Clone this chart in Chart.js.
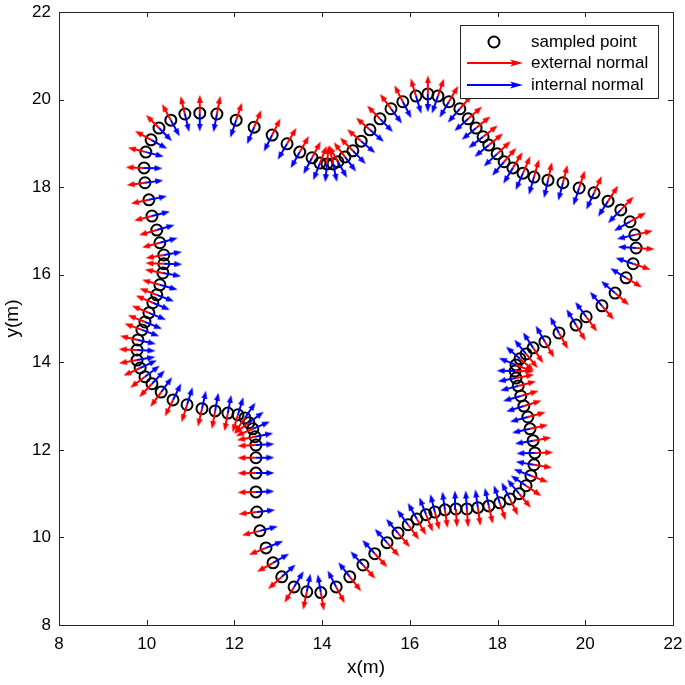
<!DOCTYPE html>
<html>
<head>
<meta charset="utf-8">
<script src="https://cdn.jsdelivr.net/npm/chart.js@4.4.1/dist/chart.umd.min.js"></script>
<style>
html,body{margin:0;padding:0;background:#fff;}
#wrap{width:685px;height:685px;}
</style>
</head>
<body>
<div id="wrap"><canvas id="c" width="685" height="685"></canvas></div>
<script>
// Sampled boundary points, in order around the shape
const sampledX = [9.96,9.94,9.98,10.10,10.28,10.55,10.87,11.21,11.60,12.04,12.45,12.86,13.20,13.49,13.77,13.95,14.11,14.25,14.36,14.52,14.70,14.89,15.09,15.32,15.57,15.84,16.14,16.41,16.64,16.89,17.14,17.33,17.51,17.67,17.80,17.99,18.15,18.35,18.58,18.83,19.15,19.49,19.86,20.20,20.52,20.81,21.02,21.13,21.16,21.09,20.93,20.68,20.38,20.02,19.79,19.40,19.08,18.81,18.65,18.51,18.42,18.40,18.42,18.47,18.53,18.60,18.69,18.74,18.81,18.85,18.83,18.76,18.65,18.49,18.28,18.05,17.80,17.55,17.30,17.05,16.80,16.57,16.37,16.16,15.96,15.73,15.48,15.20,14.93,14.63,14.32,13.97,13.65,13.36,13.08,12.88,12.72,12.58,12.51,12.49,12.49,12.49,12.49,12.47,12.42,12.33,12.24,12.08,11.85,11.56,11.26,10.92,10.60,10.33,10.12,9.96,9.85,9.78,9.78,9.80,9.89,9.96,10.05,10.14,10.23,10.30,10.37,10.39,10.39,10.30,10.23,10.12,10.05];
const sampledY = [18.10,18.44,18.80,19.08,19.35,19.53,19.67,19.69,19.67,19.53,19.37,19.19,18.99,18.80,18.67,18.55,18.53,18.53,18.58,18.69,18.83,19.05,19.31,19.56,19.79,19.95,20.08,20.13,20.08,19.95,19.79,19.56,19.35,19.15,18.96,18.76,18.58,18.44,18.32,18.23,18.16,18.10,17.98,17.87,17.68,17.48,17.21,16.91,16.61,16.25,15.93,15.58,15.29,15.04,14.85,14.67,14.47,14.33,14.19,14.08,13.94,13.80,13.64,13.46,13.23,13.00,12.75,12.48,12.21,11.93,11.66,11.41,11.18,11.00,10.88,10.79,10.72,10.68,10.65,10.65,10.63,10.58,10.52,10.42,10.29,10.10,9.88,9.63,9.37,9.10,8.87,8.74,8.76,8.87,9.10,9.42,9.76,10.15,10.58,11.04,11.47,11.82,12.11,12.30,12.48,12.62,12.73,12.80,12.84,12.89,12.94,13.03,13.14,13.32,13.51,13.67,13.87,14.05,14.28,14.51,14.74,14.92,15.13,15.36,15.54,15.77,16.04,16.25,16.45,16.73,17.02,17.34,17.71];
const xTicks = [8,10,12,14,16,18,20,22];
const yTicks = [8,10,12,14,16,18,20,22];
const normalLength = 0.42;
const seriesNames = ['sampled point','external normal','internal normal'];
const seriesColors = ['#000000','#ff0000','#0000ff'];
const FONT = '"Liberation Sans", Arial, Helvetica, sans-serif';

function makeHead(color){
  const c = document.createElement('canvas'); c.width = 6; c.height = 8;
  const g = c.getContext('2d'); g.fillStyle = color;
  g.beginPath(); g.moveTo(3,0); g.lineTo(6,8); g.lineTo(0,8); g.closePath(); g.fill();
  return c;
}
const heads = {ext: makeHead(seriesColors[1]), int: makeHead(seriesColors[2])};

// orientation of the sampled loop
let area2 = 0;
for (let i=0;i<sampledX.length;i++){
  const j=(i+1)%sampledX.length;
  area2 += sampledX[i]*sampledY[j]-sampledX[j]*sampledY[i];
}
const orient = area2>0 ? 1 : -1;

function normalArrows(sign){
  const n = sampledX.length, pts = [];
  const headLen = normalLength - 0.09;
  for (let i=0;i<n;i++){
    let tx=0, ty=0;
    [[1,1],[2,0.5]].forEach(([k,w])=>{
      const a=(i-k+n)%n, b=(i+k)%n;
      let dx=sampledX[b]-sampledX[a], dy=sampledY[b]-sampledY[a];
      const L=Math.hypot(dx,dy); tx+=w*dx/L; ty+=w*dy/L;
    });
    const L=Math.hypot(tx,ty); tx/=L; ty/=L;
    const nx = orient*ty*sign, ny = -orient*tx*sign;
    const rot = Math.atan2(nx, ny)*180/Math.PI;
    pts.push({x:sampledX[i], y:sampledY[i], head:false, rot:0});
    pts.push({x:sampledX[i]+nx*headLen, y:sampledY[i]+ny*headLen, head:true, rot:rot});
    pts.push({x:sampledX[i], y:null, head:false, rot:0});
  }
  return pts;
}

const circles = sampledX.map((x,i)=>({x:x, y:sampledY[i]}));

const frame = {
  id:'frame',
  afterDraw(chart){
    const {ctx, chartArea:a, scales:{x, y}} = chart;
    ctx.save();
    ctx.strokeStyle = '#262626'; ctx.lineWidth = 1;
    ctx.strokeRect(a.left+0.5, a.top+0.5, a.right-a.left, a.bottom-a.top);
    ctx.beginPath();
    const tl = 5;
    xTicks.forEach(v=>{
      const p = Math.round(x.getPixelForValue(v))+0.5;
      ctx.moveTo(p, a.bottom); ctx.lineTo(p, a.bottom-tl);
      ctx.moveTo(p, a.top); ctx.lineTo(p, a.top+tl);
    });
    yTicks.forEach(v=>{
      const p = Math.round(y.getPixelForValue(v))+0.5;
      ctx.moveTo(a.left, p); ctx.lineTo(a.left+tl, p);
      ctx.moveTo(a.right, p); ctx.lineTo(a.right-tl, p);
    });
    ctx.stroke();

    // legend box
    const bx=460, by=25, bw=198, bh=73;
    ctx.fillStyle='#fff'; ctx.fillRect(bx,by,bw,bh);
    ctx.strokeStyle='#262626'; ctx.lineWidth=1;
    ctx.strokeRect(bx+0.5,by+0.5,bw,bh);
    const rows=[42,63,85];
    ctx.beginPath(); ctx.lineWidth=2; ctx.strokeStyle=seriesColors[0];
    ctx.arc(494, rows[0], 5.5, 0, Math.PI*2); ctx.stroke();
    [1,2].forEach(k=>{
      const yy=rows[k];
      ctx.strokeStyle=seriesColors[k]; ctx.fillStyle=seriesColors[k]; ctx.lineWidth=2;
      ctx.beginPath(); ctx.moveTo(467,yy); ctx.lineTo(514,yy); ctx.stroke();
      ctx.beginPath(); ctx.moveTo(523,yy); ctx.lineTo(510,yy-3.5); ctx.lineTo(513,yy); ctx.lineTo(510,yy+3.5); ctx.closePath(); ctx.fill();
    });
    ctx.fillStyle='#000'; ctx.font='17px '+FONT;
    ctx.textBaseline='middle'; ctx.textAlign='left';
    seriesNames.forEach((t,k)=>ctx.fillText(t, 531, rows[k]));
    ctx.restore();
  }
};

const arrowCommon = {
  showLine:true, borderWidth:2, spanGaps:false, fill:false,
  pointRadius: c => (c.raw && c.raw.head) ? 3 : 0,
  pointHoverRadius: c => (c.raw && c.raw.head) ? 3 : 0,
  pointRotation: c => (c.raw ? c.raw.rot : 0),
  pointHitRadius: 0
};

new Chart(document.getElementById('c'), {
  type:'scatter',
  data:{
    datasets:[
      {label:seriesNames[0], data:circles, order:3, pointStyle:'circle', pointRadius:5.5, pointHoverRadius:5.5,
       borderColor:seriesColors[0], backgroundColor:'rgba(0,0,0,0)', pointBorderWidth:2, pointHoverBorderWidth:2, showLine:false},
      Object.assign({label:seriesNames[1], data:normalArrows(1), order:2, borderColor:seriesColors[1], backgroundColor:seriesColors[1],
        pointStyle: c => (c.raw && c.raw.head) ? heads.ext : 'circle'}, arrowCommon),
      Object.assign({label:seriesNames[2], data:normalArrows(-1), order:1, borderColor:seriesColors[2], backgroundColor:seriesColors[2],
        pointStyle: c => (c.raw && c.raw.head) ? heads.int : 'circle'}, arrowCommon)
    ]
  },
  options:{
    responsive:false, animation:false, events:[], devicePixelRatio:1,
    layout:{padding:{left:0, right:12, top:12, bottom:0}},
    plugins:{legend:{display:false}, tooltip:{enabled:false}},
    scales:{
      x:{type:'linear', min:8, max:22,
        afterBuildTicks: s => { s.ticks = xTicks.map(v=>({value:v})); },
        afterFit: s => { s.height = 60; s.paddingLeft = 0; s.paddingRight = 0; },
        grid:{display:false, drawTicks:false}, border:{display:false},
        ticks:{color:'#000', padding:9, font:{size:17, family:FONT}, maxRotation:0},
        title:{display:true, text:'x(m)', color:'#000', padding:{top:0,bottom:6}, font:{size:19, family:FONT}}
      },
      y:{type:'linear', min:8, max:22,
        afterBuildTicks: s => { s.ticks = yTicks.map(v=>({value:v})); },
        afterFit: s => { s.width = 59; s.paddingTop = 0; s.paddingBottom = 0; },
        grid:{display:false, drawTicks:false}, border:{display:false},
        ticks:{color:'#000', padding:8, font:{size:17, family:FONT}},
        title:{display:true, text:'y(m)', color:'#000', padding:{top:1,bottom:0}, font:{size:19, family:FONT}}
      }
    }
  },
  plugins:[frame]
});
</script>
</body>
</html>
